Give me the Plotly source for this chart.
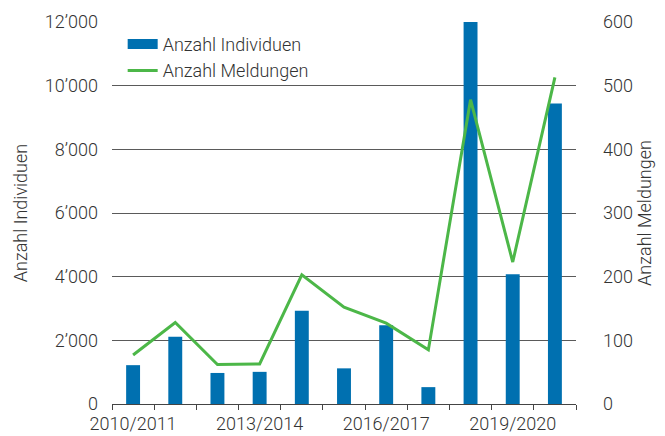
import plotly.graph_objects as go

seasons = ["2010/2011", "2011/2012", "2012/2013", "2013/2014", "2014/2015", "2015/2016",
           "2016/2017", "2017/2018", "2018/2019", "2019/2020", "2020/2021"]
individuen = [1220, 2110, 975, 1010, 2930, 1120, 2470, 530, 12000, 4075, 9440]
meldungen = [77, 128, 62, 63, 203, 152, 127, 85, 478, 223, 513]

left_ticks = [0, 2000, 4000, 6000, 8000, 10000, 12000]
left_ticktext = ["0", "2’000", "4’000", "6’000", "8’000", "10’000", "12’000"]
right_ticks = [0, 100, 200, 300, 400, 500, 600]
label_every = 3

BLUE = "#0070B0"
GREEN = "#4CB748"
TXT = "#333333"

xpos = list(range(len(seasons)))

fig = go.Figure()
fig.add_trace(go.Bar(x=xpos, y=individuen, name="Anzahl Individuen", showlegend=False,
                     marker=dict(color=BLUE, line=dict(width=0))))
# legend-only entry to render the wide rectangle swatch of the bar series
fig.add_trace(go.Scatter(x=[None], y=[None], name="Anzahl Individuen", mode="lines",
                         line=dict(color=BLUE, width=11), hoverinfo="skip"))
fig.add_trace(go.Scatter(x=xpos, y=meldungen, name="Anzahl Meldungen", yaxis="y2",
                         mode="lines", line=dict(color=GREEN, width=3)))

font = dict(family="Roboto, Liberation Sans, Arial, sans-serif", size=18, color=TXT, weight=300)

# the page body adds an 8px offset, so the figure is 8px smaller and margins compensate
fig.update_layout(
    width=657, height=428,
    margin=dict(l=104, r=89, t=14, b=32),
    paper_bgcolor="white", plot_bgcolor="white",
    font=font,
    bargap=0.67,
    showlegend=True,
    legend=dict(x=0.023, y=0.99, xanchor="left", yanchor="top",
                bgcolor="rgba(0,0,0,0)", font=font,
                tracegroupgap=0, itemwidth=30),
    xaxis=dict(
        automargin=False,
        range=[-0.5, len(seasons) - 0.5],
        tickmode="array",
        tickvals=xpos[::label_every],
        ticktext=seasons[::label_every],
        ticks="", showgrid=False, zeroline=False,
        showline=True, linecolor="#444444", linewidth=1,
        ticklabelstandoff=3,
        minor=dict(tickmode="linear", tick0=-0.5, dtick=1, ticks="outside",
                   ticklen=5, tickcolor="#444444", tickwidth=1, showgrid=False),
        tickfont=font,
    ),
    yaxis=dict(
        automargin=False,
        range=[0, 12000],
        tickmode="array", tickvals=left_ticks, ticktext=left_ticktext,
        showgrid=True, gridcolor="#5a5a5a", gridwidth=1,
        zeroline=False, showline=False, ticks="",
        ticklabelstandoff=13,
        title=dict(text="Anzahl Individuen", font=font, standoff=12),
        tickfont=font,
    ),
    yaxis2=dict(
        automargin=False,
        range=[0, 600], overlaying="y", side="right",
        tickmode="array", tickvals=right_ticks,
        showgrid=False, zeroline=False, showline=False, ticks="",
        ticklabelstandoff=26,
        title=dict(text="Anzahl Meldungen", font=font, standoff=6),
        tickfont=font,
    ),
)

fig.write_html("out.html")
